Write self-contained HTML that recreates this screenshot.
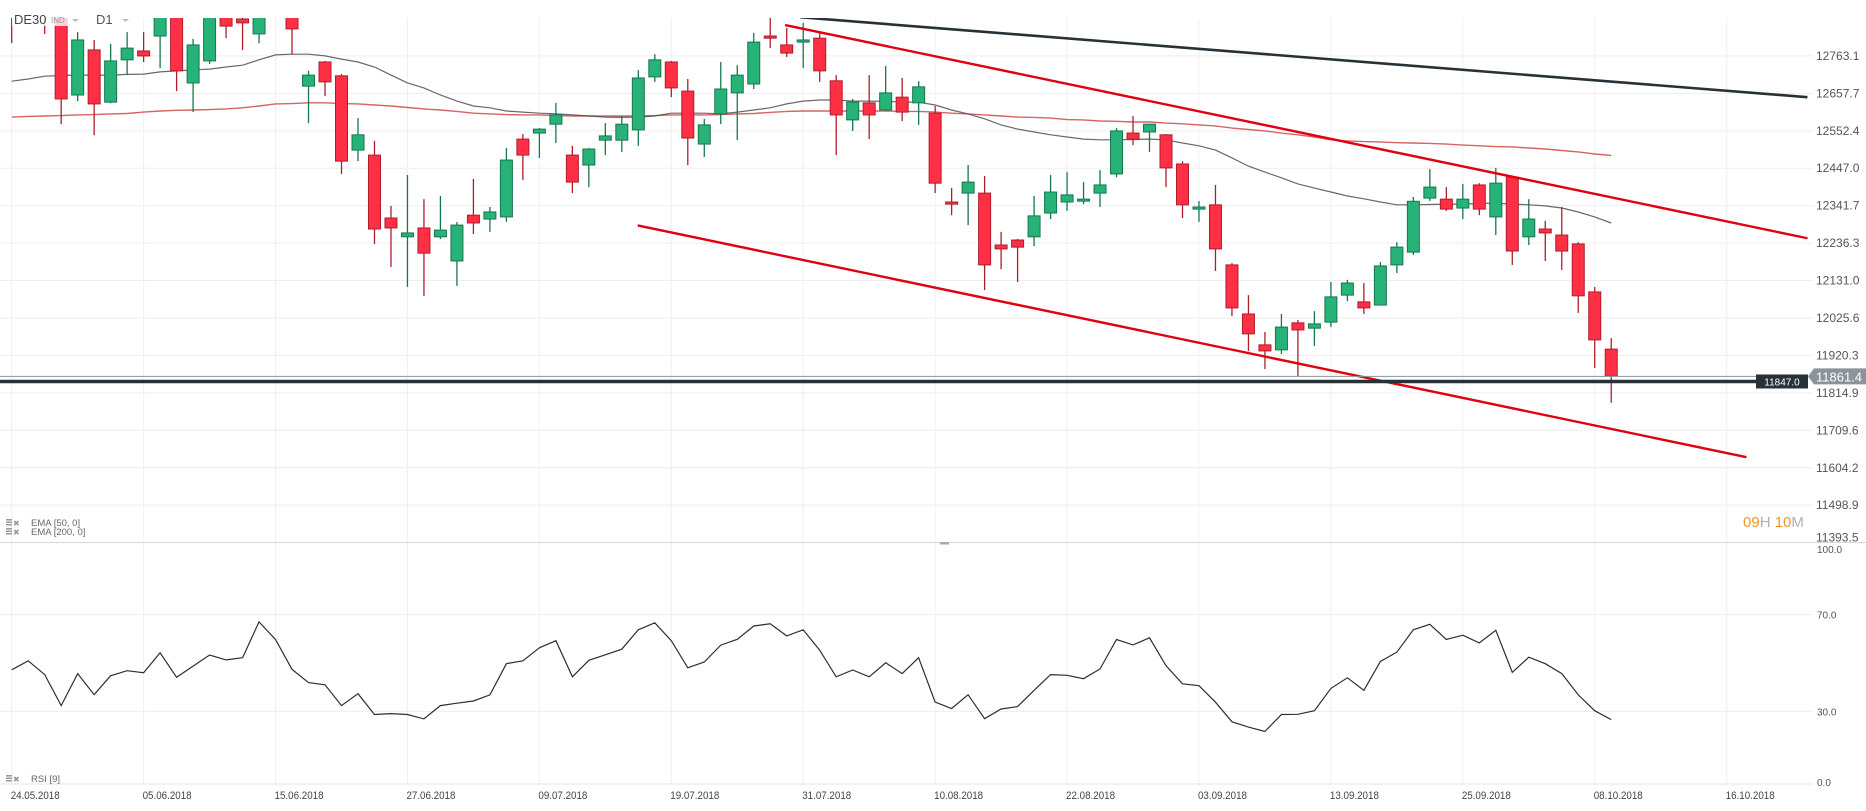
<!DOCTYPE html>
<html><head><meta charset="utf-8">
<style>
html,body{margin:0;padding:0;background:#fff;}
svg{display:block;font-family:"Liberation Sans",sans-serif;}
</style></head>
<body>
<svg id="chart" width="1866" height="811" viewBox="0 0 1866 811" xmlns="http://www.w3.org/2000/svg">
<defs>
<clipPath id="pc"><rect x="0" y="18" width="1813" height="524"/></clipPath>
<clipPath id="rc"><rect x="0" y="543" width="1813" height="242"/></clipPath>
</defs>
<g id="grid"></g>
<g id="price" clip-path="url(#pc)"></g>
<g id="rsi" clip-path="url(#rc)"></g>
<g id="axes"></g>
<g id="overlay"></g>
</svg>
<script>
const tickPrices=[12763.1,12657.7,12552.4,12447.0,12341.7,12236.3,12131.0,12025.6,11920.3,11814.9,11709.6,11604.2,11498.9,11393.5];
const dateLabels=["24.05.2018","05.06.2018","15.06.2018","27.06.2018","09.07.2018","19.07.2018","31.07.2018","10.08.2018","22.08.2018","03.09.2018","13.09.2018","25.09.2018","08.10.2018","16.10.2018"];
const rsiTicks=[100,70,30,0];
const opens=[12906,12977,12934,12878,12653,12780,12633,12752,12777,12819,12906,12687,12749,12887,12867,12825,12906,12906,12678,12746,12707,12498,12484,12307,12254,12279,12254,12186,12315,12304,12310,12529,12546,12571,12484,12456,12526,12526,12555,12704,12746,12664,12515,12600,12659,12684,12819,12794,12802,12813,12693,12583,12631,12611,12647,12631,12602,12352,12377,12377,12231,12245,12254,12321,12352,12355,12377,12431,12546,12549,12541,12459,12332,12344,12175,12037,11950,11936,12012,11997,12014,12090,12071,12062,12175,12211,12363,12360,12335,12400,12310,12422,12254,12276,12259,12234,12099,11938];
const highs=[12915,12991,12949,12892,12830,12808,12797,12830,12830,12906,12920,12811,12906,12898,12878,12906,12963,12920,12721,12749,12712,12588,12524,12341,12428,12360,12369,12296,12417,12338,12504,12543,12560,12631,12510,12504,12574,12594,12723,12768,12749,12698,12586,12746,12737,12828,12887,12842,12856,12830,12709,12642,12709,12735,12701,12692,12622,12391,12456,12425,12268,12248,12369,12428,12436,12408,12442,12560,12594,12571,12543,12467,12355,12400,12180,12090,11986,12037,12020,12045,12127,12133,12124,12183,12239,12366,12445,12394,12403,12405,12448,12425,12360,12299,12338,12239,12113,11969];
const lows=[12799,12912,12825,12571,12636,12540,12630,12709,12746,12729,12664,12605,12740,12813,12780,12799,12892,12768,12574,12650,12431,12467,12234,12169,12113,12088,12248,12116,12262,12268,12296,12414,12476,12518,12377,12394,12484,12493,12510,12690,12647,12456,12479,12571,12526,12670,12785,12760,12729,12690,12484,12552,12529,12608,12580,12569,12377,12315,12287,12104,12163,12127,12228,12304,12327,12346,12338,12422,12512,12493,12394,12307,12296,12158,12031,11933,11882,11924,11862,11947,12000,12073,12037,12062,12152,12203,12355,12327,12304,12315,12259,12175,12231,12186,12161,12040,11885,11787];
const closes=[12873,12934,12878,12642,12808,12628,12749,12785,12763,12892,12721,12794,12887,12847,12856,12892,12949,12839,12709,12690,12467,12541,12276,12279,12265,12208,12273,12287,12293,12324,12470,12484,12557,12597,12408,12501,12538,12571,12701,12752,12673,12532,12569,12670,12709,12802,12813,12771,12808,12721,12597,12633,12597,12659,12605,12676,12405,12346,12408,12175,12220,12225,12313,12380,12372,12360,12400,12552,12529,12571,12448,12344,12338,12220,12054,11981,11933,12000,11992,12009,12085,12124,12054,12172,12225,12354,12394,12332,12360,12332,12405,12214,12304,12265,12214,12088,11964,11862];
const ema50=[12692,12698,12706,12708,12709,12709,12709,12711,12712,12718,12721,12724,12726,12732,12737,12752,12766,12768,12768,12763,12754,12746,12732,12709,12687,12673,12653,12636,12622,12617,12608,12605,12602,12600,12597,12594,12591,12590,12591,12594,12602,12602,12602,12600,12605,12611,12617,12628,12636,12639,12639,12636,12636,12635,12633,12633,12625,12611,12600,12586,12569,12557,12549,12541,12535,12529,12527,12527,12528,12529,12527,12518,12510,12498,12476,12453,12436,12420,12403,12391,12380,12369,12361,12352,12344,12344,12345,12346,12346,12348,12349,12346,12344,12341,12335,12324,12310,12293];
const ema200=[12591,12593,12594,12595,12597,12598,12600,12601,12605,12608,12610,12611,12612,12614,12617,12622,12628,12629,12631,12631,12629,12628,12625,12622,12618,12614,12611,12607,12602,12600,12598,12597,12597,12595,12594,12594,12594,12594,12594,12595,12597,12597,12597,12598,12600,12601,12604,12607,12608,12608,12608,12608,12608,12608,12607,12607,12605,12602,12600,12597,12594,12591,12590,12588,12584,12583,12580,12579,12577,12577,12574,12572,12569,12566,12560,12556,12552,12546,12541,12535,12527,12524,12522,12521,12519,12518,12517,12515,12512,12510,12508,12507,12504,12501,12497,12493,12487,12483];
const rsiValues=[47.2,50.9,45.2,32.4,45.6,36.9,44.7,46.8,46.0,54.2,44.1,48.7,53.3,51.3,52.2,67.0,59.7,47.4,41.9,41.0,32.4,37.3,28.7,29.1,28.7,26.9,32.4,33.4,34.3,36.8,49.7,50.9,56.3,59.2,44.3,51.1,53.4,55.7,63.7,66.6,59.2,48.0,50.4,57.4,59.8,65.3,66.2,61.2,63.7,55.3,44.3,47.1,44.3,50.1,45.6,52.2,33.9,31.2,36.9,27.0,31.0,32.0,38.7,45.2,44.9,43.5,47.5,59.7,57.5,60.4,48.9,41.4,40.6,33.8,25.7,23.5,21.7,28.7,28.8,30.3,39.5,43.9,38.7,50.6,54.5,63.7,66.0,59.7,61.5,58.3,63.5,46.1,52.4,49.7,45.6,36.8,30.3,26.6];
const blackTrend=[[47.8,12872],[108.9,12647]];
const upperTrend=[[46.9,12850],[108.9,12250]];
const lowerTrend=[[37.96,12286],[105.2,11634]];
const supportLevel=11847.0;
const lastPrice=11861.4;

const NS="http://www.w3.org/2000/svg";
function xOf(i){return 11.7+16.49*i;}
function yP(p){return 55.9+(12763.1-p)*0.35539;}
function yR(r){return 784-2.42*r;}
function mk(tag,attrs,parent,text){const e=document.createElementNS(NS,tag);for(const k in attrs)e.setAttribute(k,attrs[k]);if(text!==undefined)e.textContent=text;parent.appendChild(e);return e;}
const grid=document.getElementById('grid'),price=document.getElementById('price'),rsiG=document.getElementById('rsi'),axes=document.getElementById('axes'),ov=document.getElementById('overlay');

// horizontal price grid + labels
tickPrices.forEach((p,k)=>{
  const y=yP(p);
  const l=mk('line',{x1:0,x2:1813,y1:y,y2:y,stroke:'#eeeeee','stroke-width':1},grid);
  
  
  const ty=(k===tickPrices.length-1)?y-1:y+4;
  const t=mk('text',{x:1816,y:ty,'font-size':12,fill:'#555'},axes,p.toFixed(1));
  
  
});
// vertical grid + date labels
dateLabels.forEach((d,k)=>{
  const x=xOf(k*8);
  const l=mk('line',{x1:x,x2:x,y1:18,y2:785,stroke:'#f0f0f0','stroke-width':1},grid);
  
  
  const t=mk('text',{x:x-1,y:799,'font-size':11,fill:'#444',textLength:49,lengthAdjust:'spacingAndGlyphs'},axes,d);
  
  
});
// rsi grid
rsiTicks.forEach(r=>{
  const y=yR(r);
  if(r!==100){const l=mk('line',{x1:0,x2:1813,y1:y,y2:y,stroke:r===0?'#e4e4e4':'#eeeeee','stroke-width':1},grid);
  
  }
  const ty=r===100?553:(r===0?786:y+4);
  const t=mk('text',{x:1817,y:ty,'font-size':10,fill:'#555'},axes,r.toFixed(1));
  
  
});
// panel divider
const dv=mk('line',{x1:0,x2:1866,y1:542.5,y2:542.5,stroke:'#d8d8d8','stroke-width':1},grid);


const hd=mk('rect',{x:940,y:542,width:9,height:2.5,fill:'#aaa'},grid);



// EMA lines
function pathOf(arr,fy){return arr.map((v,i)=>(i?'L':'M')+xOf(i).toFixed(1)+','+fy(v).toFixed(1)).join(' ');}
const e200=mk('path',{d:pathOf(ema200,yP),fill:'none',stroke:'#c9302c','stroke-opacity':0.75,'stroke-width':1.4},price);


const e50=mk('path',{d:pathOf(ema50,yP),fill:'none',stroke:'#4a4f55','stroke-opacity':0.85,'stroke-width':1.2},price);



// candles
for(let i=0;i<opens.length;i++){
  const o=opens[i],c=closes[i],h=highs[i],lo=lows[i];
  const up=c>=o;
  const fill=up?'#27b378':'#ff3046', stroke=up?'#16774c':'#b01c2c';
  const x=xOf(i);
  const g=mk('g',{},price);
  
  
  const w=mk('line',{x1:x,x2:x,y1:yP(h),y2:yP(lo),stroke:stroke,'stroke-width':1.3},g);
  
  
  const top=yP(Math.max(o,c)),bot=yP(Math.min(o,c));
  const b=mk('rect',{x:x-6,y:top,width:12,height:Math.max(2,bot-top),fill:fill,stroke:stroke,'stroke-width':1},g);
  
  
}

// trend lines
function trend(pts,col,w,name){
  const l=mk('line',{x1:xOf(pts[0][0]),y1:yP(pts[0][1]),x2:xOf(pts[1][0]),y2:yP(pts[1][1]),stroke:col,'stroke-width':w},price);
  
  
}
trend(blackTrend,'#263238',2.6,'black-trend-line');
trend(upperTrend,'#e0000f',2.4,'upper-channel-line');
trend(lowerTrend,'#e0000f',2.4,'lower-channel-line');

// last price line & support
const lp=mk('line',{x1:0,x2:1808,y1:yP(lastPrice),y2:yP(lastPrice),stroke:'#8a9499','stroke-width':1},ov);


const sl=mk('line',{x1:0,x2:1808,y1:yP(supportLevel),y2:yP(supportLevel),stroke:'#263238','stroke-width':3.5},ov);


const sy=yP(supportLevel);
const sb=mk('rect',{x:1756,y:sy-7,width:52,height:14,fill:'#263238'},ov);


const st=mk('text',{x:1782,y:sy+4,'font-size':10,fill:'#fff','text-anchor':'middle'},ov,supportLevel.toFixed(1));


const ly=yP(lastPrice);
const lb=mk('path',{d:`M1808,${ly} L1814,${ly-8} L1866,${ly-8} L1866,${ly+8} L1814,${ly+8} Z`,fill:'#8a9499'},ov);


const lt=mk('text',{x:1816,y:ly+5,'font-size':13,fill:'#fff'},ov,lastPrice.toFixed(1));



// rsi line
const rl=mk('path',{d:pathOf(rsiValues,yR),fill:'none',stroke:'#2b2f33','stroke-width':1.2},rsiG);



// header
const hbg=mk('rect',{x:12,y:12,width:118,height:14,fill:'#fff','fill-opacity':0.8},ov);


const sym=mk('text',{x:14,y:24,'font-size':13,fill:'#444'},ov,'DE30');


const ind=mk('text',{x:51,y:23,'font-size':8,fill:'#8a96a0'},ov,'IND');


const dd1=mk('path',{d:'M72,19 L79,19 L75.5,22 Z',fill:'#bbb'},ov);


const tf=mk('text',{x:96,y:24,'font-size':13,fill:'#555'},ov,'D1');


const dd2=mk('path',{d:'M122,19 L129,19 L125.5,22 Z',fill:'#bbb'},ov);



// indicator legends
[['EMA  [50, 0]',526,'ema-50-legend'],['EMA  [200, 0]',535,'ema-200-legend'],['RSI  [9]',782,'rsi-legend']].forEach(a=>{
  const y=a[1];
  const ic=mk('g',{},ov);
  
  
  mk('rect',{x:6,y:y-7,width:6,height:1.5,fill:'#999'},ic);
  mk('rect',{x:6,y:y-4.5,width:6,height:1.5,fill:'#999'},ic);
  mk('rect',{x:6,y:y-2,width:6,height:1.5,fill:'#999'},ic);
  const x=mk('text',{x:13,y:y,'font-size':8,fill:'#999'},ov,'✖');
  
  
  const t=mk('text',{x:31,y:y,'font-size':9.5,fill:'#666'},ov,a[0]);
  
  
});

// countdown
const cd=mk('text',{x:1743,y:527,'font-size':15},ov);


mk('tspan',{fill:'#f7931e'},cd,'09');
mk('tspan',{fill:'#b0b0b0'},cd,'H ');
mk('tspan',{fill:'#f7931e'},cd,'10');
mk('tspan',{fill:'#b0b0b0'},cd,'M');
</script>
</body></html>
